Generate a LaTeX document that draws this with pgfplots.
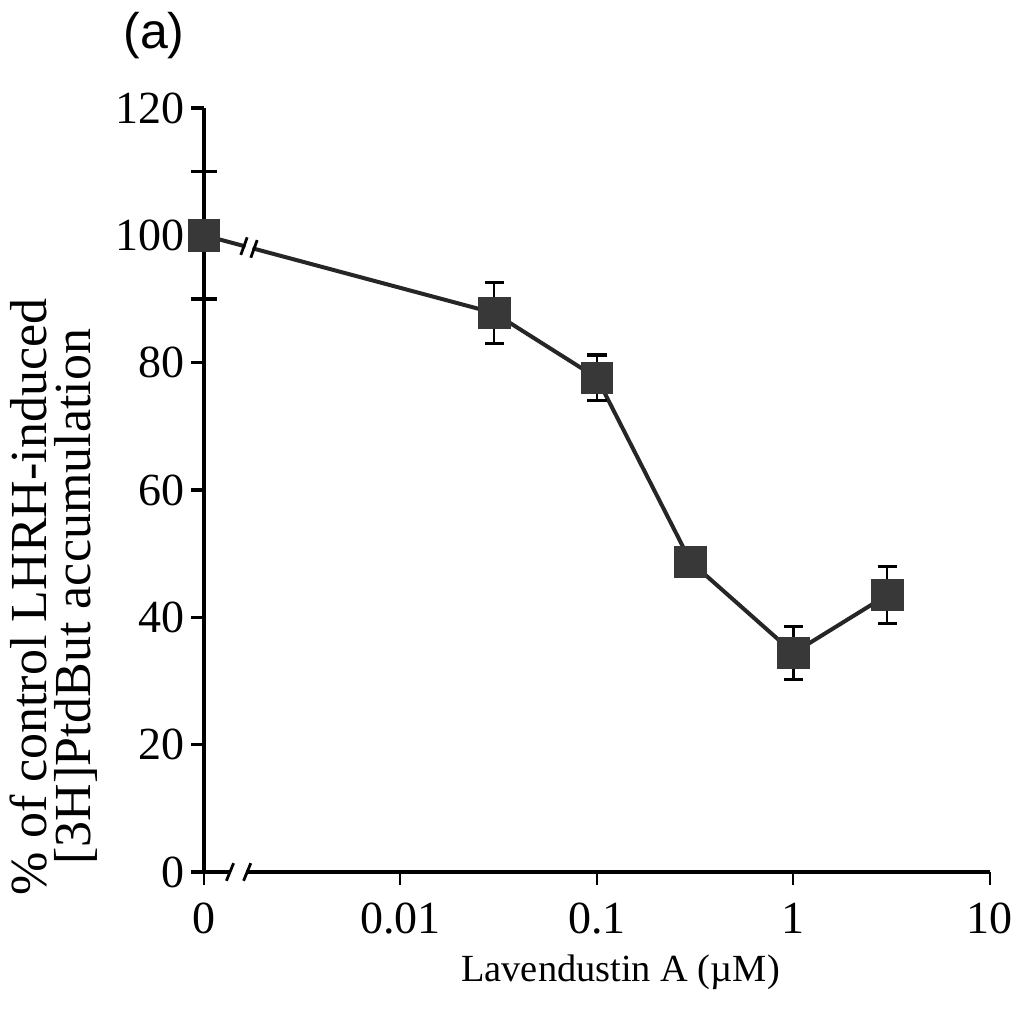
\documentclass[border=0pt]{standalone}
\usepackage{pgfplots}
\pgfplotsset{compat=1.18}
\usepackage{fontspec}
\setmainfont{Liberation Serif}
\newfontfamily\sansf{Liberation Sans}
\begin{document}
\begin{tikzpicture}
\begin{axis}[
  scale only axis,
  width=196.5pt, height=191pt,
  xmode=log,
  xmin=0.001, xmax=10,
  ymin=0, ymax=120,
  axis lines=left,
  axis line style={-, line width=0.9pt},
  x axis line style={line width=1.2pt},
  xtick={0.001,0.01,0.1,1,10},
  xticklabels={0,0.01,0.1,1,10},
  ytick={0,20,40,60,80,100,120},
  xminorticks=false, yminorticks=false,
  tick align=outside,
  major tick length=3.2pt,
  tick style={line width=0.8pt, black},
  x tick style={line width=0.5pt},
  /pgf/number format/assume math mode=true,
  ticklabel style={font=\fontsize{11.5}{13}\selectfont},
  xticklabel style={yshift=-1pt},
  yticklabel style={xshift=1.8pt},
  xlabel={Lavendustin A (\textmu M)},
  xlabel style={font=\fontsize{9.6}{12}\selectfont, at={(axis description cs:0.53,-0.144)}, anchor=base},
  ylabel={\% of control LHRH-induced\\{[3H]PtdBut} accumulation},
  ylabel style={font=\fontsize{13}{11}\selectfont, align=center, at={(axis description cs:-0.118,0.36)}, anchor=south},
  clip=false,
]
\addplot[line width=1pt, black!85,
  mark=square*, mark size=3.6pt, mark options={fill=black!78, draw=black!78},
  error bars/.cd, y dir=both, y explicit,
  error bar style={line width=0.6pt, black},
  error mark options={rotate=90, mark size=2.4pt, line width=0.8pt, black}]
coordinates {
  (0.001,100) +- (0,0)
  (0.03,87.8) +- (0,4.8)
  (0.1,77.6) +- (0,3.6)
  (0.3,48.7) +- (0,0)
  (1,34.4) +- (0,4.2)
  (3,43.5) +- (0,4.5)
};
% minor ticks at 90 and 110 crossing the y axis
\draw[line width=0.8pt] ([xshift=-3.2pt]axis cs:0.001,90) -- ([xshift=3.2pt]axis cs:0.001,90);
\draw[line width=0.8pt] ([xshift=-3.2pt]axis cs:0.001,110) -- ([xshift=3.2pt]axis cs:0.001,110);
% x-axis break
\fill[white] ([xshift=6.7pt,yshift=-1.2pt]axis cs:0.001,0) rectangle ([xshift=10.6pt,yshift=1.2pt]axis cs:0.001,0);
\draw[line width=0.7pt] ([xshift=5.6pt,yshift=-2.2pt]axis cs:0.001,0) -- ([xshift=7.4pt,yshift=2.2pt]axis cs:0.001,0);
\draw[line width=0.7pt] ([xshift=9.9pt,yshift=-2.2pt]axis cs:0.001,0) -- ([xshift=11.7pt,yshift=2.2pt]axis cs:0.001,0);
% data line break
\draw[white, line width=2.5pt] ([xshift=10.4pt,yshift=-2.79pt]axis cs:0.001,100) -- ([xshift=12.1pt,yshift=-3.24pt]axis cs:0.001,100);
\draw[line width=0.7pt] ([xshift=9.2pt,yshift=-4.9pt]axis cs:0.001,100) -- ([xshift=10.8pt,yshift=-0.5pt]axis cs:0.001,100);
\draw[line width=0.7pt] ([xshift=11.7pt,yshift=-5.6pt]axis cs:0.001,100) -- ([xshift=13.3pt,yshift=-1.2pt]axis cs:0.001,100);
\end{axis}
% panel label
\node[font=\sansf\fontsize{12.5}{14}\selectfont] at (-12.5pt,209.2pt) {(a)};
\pgfresetboundingbox
\path (-51pt,-36.25pt) rectangle (204.5pt,218pt);
\end{tikzpicture}
\end{document}
